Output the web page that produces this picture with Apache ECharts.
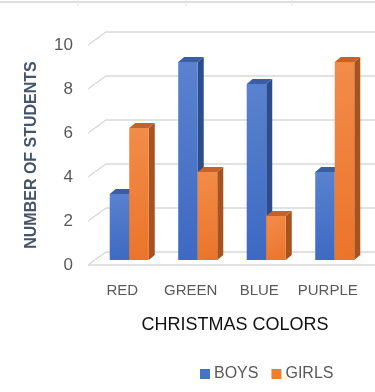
<!DOCTYPE html>
<html><head><meta charset="utf-8">
<script src="https://cdn.jsdelivr.net/npm/echarts@6/dist/echarts.min.js"></script>
<style>html,body{margin:0;padding:0;background:#fff}#c{width:375px;height:392px}</style>
</head><body><div id="c"></div>
<script>
const categories = ['RED', 'GREEN', 'BLUE', 'PURPLE'];
const boys = [3, 9, 8, 4];
const girls = [6, 4, 2, 9];
const yTicks = [0, 2, 4, 6, 8, 10];

const FONT = 'Liberation Sans, Arial, sans-serif';
const chart = echarts.init(document.getElementById('c'), null, {renderer: 'canvas'});

const DEPTH_X = 18, DEPTH_Y = -13;   // floor depth
const BAR_DX = 6, BAR_DY = -5;       // bar thickness

function barItem(side, colors) {
  return function (params, api) {
    const cat = api.value(0), v = api.value(1);
    const p = api.coord([cat, v]);
    const p0 = api.coord([cat, 0]);
    const band = api.size([1, 0])[0];
    const bw = band * 0.285;
    const ox = band * 0.102, oy = -5;
    const x1 = p[0] + ox + (side === 0 ? -bw : 0);
    const x2 = x1 + bw;
    const yt = p[1] + oy, yb = p0[1] + oy;
    return {
      type: 'group',
      children: [
        {type: 'polygon', shape: {points: [[x2, yt], [x2 + BAR_DX, yt + BAR_DY], [x2 + BAR_DX, yb + BAR_DY], [x2, yb]]},
          style: {fill: colors.side}},
        {type: 'polygon', shape: {points: [[x1, yt], [x1 + BAR_DX, yt + BAR_DY], [x2 + BAR_DX, yt + BAR_DY], [x2, yt]]},
          style: {fill: colors.top}},
        {type: 'rect', shape: {x: x1, y: yt, width: bw, height: yb - yt},
          style: {fill: new echarts.graphic.LinearGradient(0, 0, 1, 1, [
            {offset: 0, color: colors.f1}, {offset: 1, color: colors.f2}])}}
      ]
    };
  };
}

function gridItem(params, api) {
  const v = api.value(1);
  const cs = params.coordSys;
  const y = api.coord([0, v])[1];
  const x0 = cs.x, x1 = cs.x + cs.width;
  const children = [{
    type: 'polyline',
    shape: {points: [[x0, y], [x0 + DEPTH_X, y + DEPTH_Y], [x1 + DEPTH_X, y + DEPTH_Y]]},
    style: {stroke: '#d9d9d9', lineWidth: 1.3, fill: null}
  }];
  if (v === 0) {
    children.push({type: 'line', shape: {x1: x0, y1: y, x2: x1 + DEPTH_X, y2: y},
      style: {stroke: '#d9d9d9', lineWidth: 1.3}});
  }
  return {type: 'group', children};
}

const blue = {f1: '#5a82cf', f2: '#3d69c2', side: '#2c4d8c', top: '#3a5ea6'};
const orange = {f1: '#f28c49', f2: '#eb742a', side: '#a8521d', top: '#c4622a'};

chart.setOption({
  animation: false,
  grid: {left: 88, right: 13, top: 45, bottom: 127},
  graphic: [
    {type: 'line', shape: {x1: 0, y1: 2, x2: 375, y2: 2}, style: {stroke: '#dedede', lineWidth: 2}},
    {type: 'line', shape: {x1: 78, y1: 0, x2: 78, y2: 6}, style: {stroke: '#e6e6e6', lineWidth: 1}},
    {type: 'line', shape: {x1: 186, y1: 0, x2: 186, y2: 6}, style: {stroke: '#e6e6e6', lineWidth: 1}},
    {type: 'line', shape: {x1: 292, y1: 0, x2: 292, y2: 6}, style: {stroke: '#e6e6e6', lineWidth: 1}}
  ],
  legend: {
    data: [{name: 'BOYS', icon: 'rect'}, {name: 'GIRLS', icon: 'rect'}],
    left: 195, top: 361, itemWidth: 10, itemHeight: 10, itemGap: 13,
    textStyle: {fontFamily: FONT, fontSize: 16, color: '#595959', padding: [0, 0, 0, -1]}
  },
  xAxis: {
    type: 'category', data: categories,
    axisLine: {show: false}, axisTick: {show: false}, splitLine: {show: false},
    axisLabel: {interval: 0, fontFamily: FONT, fontSize: 15, color: '#595959', margin: 18},
    name: 'CHRISTMAS COLORS', nameLocation: 'middle', nameGap: 51,
    nameTextStyle: {fontFamily: FONT, fontSize: 18, color: '#111', padding: [0, 0, 0, 20]}
  },
  yAxis: {
    type: 'value', min: 0, max: 10, interval: 2,
    axisLine: {show: false}, axisTick: {show: false}, splitLine: {show: false},
    axisLabel: {fontFamily: FONT, fontSize: 17, color: '#595959', margin: 15},
    name: 'NUMBER OF STUDENTS', nameLocation: 'middle', nameRotate: 90, nameGap: 48,
    nameTextStyle: {fontFamily: FONT, fontSize: 16, fontWeight: 'bold', color: '#44546a'}
  },
  series: [
    {type: 'custom', name: 'grid', renderItem: gridItem, clip: false, z: 1, silent: true,
      data: yTicks.map(t => [0, t])},
    {type: 'custom', name: 'BOYS', renderItem: barItem(0, blue), clip: false, z: 2,
      itemStyle: {color: '#4472c4'}, data: boys.map((v, i) => [i, v])},
    {type: 'custom', name: 'GIRLS', renderItem: barItem(1, orange), clip: false, z: 3,
      itemStyle: {color: '#ed7d31'}, data: girls.map((v, i) => [i, v])}
  ]
});
</script></body></html>
